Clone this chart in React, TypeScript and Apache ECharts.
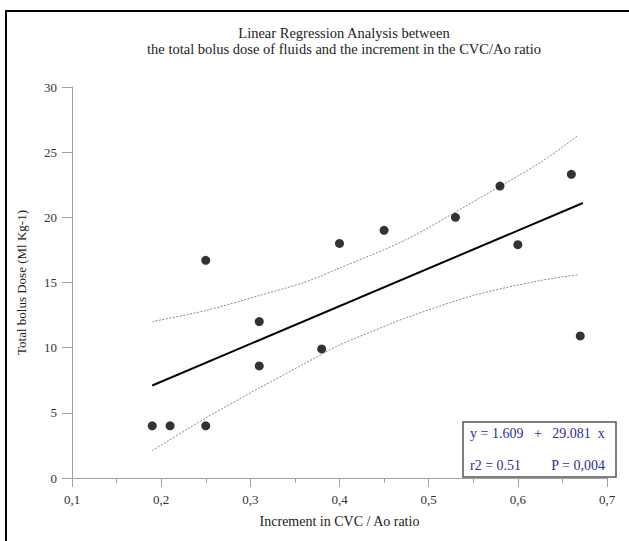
import React, { useEffect, useRef } from "react";
import * as echarts from "echarts";

// Observed data points: [increment in CVC/Ao ratio, total bolus dose]
const points: [number, number][] = [
  [0.19, 4], [0.21, 4], [0.25, 16.7], [0.25, 4], [0.31, 12], [0.31, 8.6],
  [0.38, 9.9], [0.40, 18], [0.45, 19], [0.53, 20], [0.58, 22.4], [0.60, 17.9],
  [0.66, 23.3], [0.67, 10.9],
];
// Regression line endpoints
const regression: [number, number][] = [[0.19, 7.1], [0.673, 21.1]];
// Confidence band (upper / lower)
const upperBand: [number, number][] = [
  [0.19, 12.0], [0.25, 12.85], [0.31, 14.0], [0.36, 15.0], [0.40, 16.1],
  [0.475, 18.3], [0.55, 21.2], [0.625, 24.2], [0.668, 26.3],
];
const lowerBand: [number, number][] = [
  [0.19, 2.1], [0.25, 4.6], [0.31, 6.9], [0.36, 8.75], [0.40, 10.2],
  [0.435, 11.2], [0.475, 12.3], [0.55, 14.0], [0.625, 15.15], [0.668, 15.6],
];
const titleLines = [
  "Linear Regression Analysis between",
  "the total bolus dose of fluids and the increment in the CVC/Ao ratio",
];
const xName = "Increment in CVC / Ao ratio";
const yName = "Total bolus Dose (Ml Kg-1)";
const eqText = "y = 1.609   +   29.081  x";
const r2Text = "r2 = 0.51";
const pText = "P = 0,004";

const FONT = "'Liberation Serif', 'DejaVu Serif', serif";

export default function App() {
  const ref = useRef<HTMLDivElement>(null);
  useEffect(() => {
    if (!ref.current) return;
    const chart = echarts.init(ref.current, undefined, { renderer: "svg" });
    chart.setOption({
      animation: false,
      backgroundColor: "#ffffff",
      textStyle: { fontFamily: FONT },
      grid: { left: 72, right: 22, top: 87, bottom: 63, containLabel: false },
      xAxis: {
        type: "value",
        min: 0.1,
        max: 0.7,
        interval: 0.1,
        name: xName,
        nameLocation: "middle",
        nameGap: 36,
        nameTextStyle: { fontFamily: FONT, fontSize: 14, color: "#222" },
        axisLine: { show: true, lineStyle: { color: "#a0a0a0", width: 1 } },
        axisTick: { show: true, length: 9, lineStyle: { color: "#a0a0a0" } },
        minorTick: { show: true, splitNumber: 2, length: 5, lineStyle: { color: "#a0a0a0" } },
        splitLine: { show: false },
        axisLabel: {
          margin: 15,
          fontFamily: FONT,
          fontSize: 13,
          color: "#333",
          formatter: (v: number) => v.toFixed(1).replace(".", ","),
        },
      },
      yAxis: {
        type: "value",
        min: 0,
        max: 30,
        interval: 5,
        name: yName,
        nameLocation: "middle",
        nameGap: 44,
        nameTextStyle: { fontFamily: FONT, fontSize: 13, color: "#222" },
        axisLine: { show: true, lineStyle: { color: "#a0a0a0", width: 1 } },
        axisTick: { show: true, length: 10, lineStyle: { color: "#a0a0a0" } },
        splitLine: { show: false },
        axisLabel: { margin: 15, fontFamily: FONT, fontSize: 13, color: "#333" },
      },
      title: {
        text: titleLines.join("\n"),
        left: 339,
        top: 20,
        textAlign: "center",
        textStyle: { fontFamily: FONT, fontSize: 14.5, fontWeight: "normal", color: "#222", lineHeight: 16 },
      },
      series: [
        {
          type: "line",
          data: upperBand,
          smooth: 0.3,
          showSymbol: false,
          lineStyle: { color: "#888", width: 1, type: [2, 1.5] },
          z: 2,
        },
        {
          type: "line",
          data: lowerBand,
          smooth: 0.3,
          showSymbol: false,
          lineStyle: { color: "#888", width: 1, type: [2, 1.5] },
          z: 2,
        },
        {
          type: "line",
          data: regression,
          showSymbol: false,
          lineStyle: { color: "#000", width: 2 },
          z: 3,
        },
        {
          type: "scatter",
          data: points,
          symbolSize: 9,
          itemStyle: { color: "#000" },
          z: 4,
        },
      ],
      graphic: [
        {
          type: "line",
          shape: { x1: 5, y1: 11, x2: 629, y2: 11 },
          style: { stroke: "#000", lineWidth: 2 },
        },
        {
          type: "line",
          shape: { x1: 6, y1: 10, x2: 6, y2: 541 },
          style: { stroke: "#000", lineWidth: 2 },
        },
        {
          type: "rect",
          shape: { x: 463, y: 422, width: 153, height: 55 },
          style: { fill: "#fff", stroke: "#555", lineWidth: 1.5 },
          z: 10,
        },
        {
          type: "text",
          x: 470,
          y: 433,
          style: { text: eqText, fill: "#2e2e96", font: `14px ${FONT}`, textVerticalAlign: "middle" },
          z: 11,
        },
        {
          type: "text",
          x: 470,
          y: 465,
          style: { text: r2Text, fill: "#2e2e96", font: `14px ${FONT}`, textVerticalAlign: "middle" },
          z: 11,
        },
        {
          type: "text",
          x: 605,
          y: 465,
          style: { text: pText, fill: "#2e2e96", font: `14px ${FONT}`, textAlign: "right", textVerticalAlign: "middle" },
          z: 11,
        },
      ],
    });
    return () => chart.dispose();
  }, []);
  return (
    <div
      ref={ref}
      style={{ position: "absolute", left: 0, top: 0, width: 629, height: 541 }}
    />
  );
}
